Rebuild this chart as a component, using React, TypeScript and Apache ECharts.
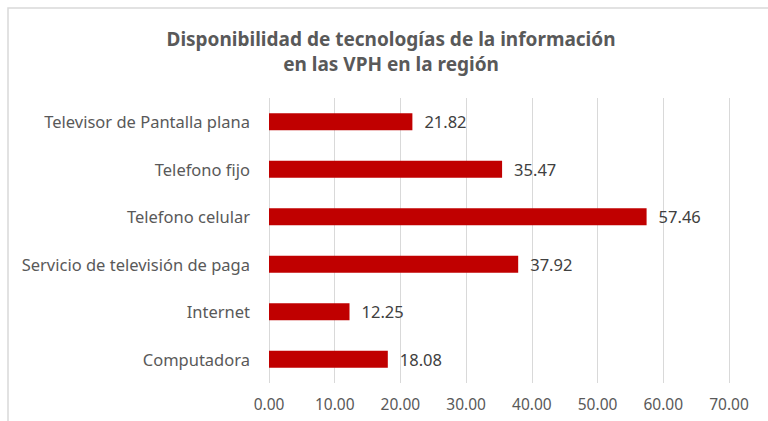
import React, { useEffect, useRef } from "react";
import * as echarts from "echarts";

const categories = [
  "Computadora",
  "Internet",
  "Servicio de televisión de paga",
  "Telefono celular",
  "Telefono fijo",
  "Televisor de Pantalla plana",
];
const values = [18.08, 12.25, 37.92, 57.46, 35.47, 21.82];
const titleLines = ["Disponibilidad de tecnologías de la información", "en las VPH en la región"];

const FONT = "'Noto Sans', sans-serif";

const titleStyle = {
  fontFamily: FONT,
  fontSize: 19,
  fontWeight: "bold",
  color: "#595959",
  lineHeight: 20,
};

export default function App() {
  const ref = useRef<HTMLDivElement>(null);
  useEffect(() => {
    if (!ref.current) return;
    const chart = echarts.init(ref.current, undefined, { renderer: "svg" });
    chart.setOption({
      animation: false,
      backgroundColor: "#ffffff",
      title: [
        { text: titleLines[0], left: 391, textAlign: "center", top: 29, padding: 0, textStyle: titleStyle },
        { text: titleLines[1], left: 391, textAlign: "center", top: 54, padding: 0, textStyle: titleStyle },
      ],
      graphic: [
        {
          type: "rect",
          shape: { x: 8, y: 8, width: 800, height: 500 },
          style: { fill: "none", stroke: "#d9d9d9", lineWidth: 1.5 },
          silent: true,
        },
      ],
      grid: { left: 269, right: 39, top: 98, bottom: 38, containLabel: false },
      xAxis: {
        type: "value",
        min: 0,
        max: 70,
        interval: 10,
        axisLine: { show: false },
        axisTick: { show: false },
        splitLine: { show: true, lineStyle: { color: "#d9d9d9", width: 1 } },
        axisLabel: {
          formatter: (v: number) => v.toFixed(2),
          color: "#595959",
          fontFamily: FONT,
          fontSize: 15.5,
          margin: 13,
        },
      },
      yAxis: {
        type: "category",
        data: categories,
        axisLine: { show: false },
        axisTick: { show: false },
        splitLine: { show: false },
        axisLabel: {
          color: "#595959",
          fontFamily: FONT,
          fontSize: 16.5,
          margin: 19,
        },
      },
      series: [
        {
          type: "bar",
          data: values,
          barWidth: 17,
          itemStyle: { color: "#C00000" },
          label: {
            show: true,
            position: "right",
            distance: 12,
            formatter: (p: any) => Number(p.value).toFixed(2),
            color: "#404040",
            fontFamily: FONT,
            fontSize: 16.5,
          },
        },
      ],
    });
    return () => chart.dispose();
  }, []);
  return (
    <div
      ref={ref}
      style={{ position: "fixed", left: 0, top: 0, width: 768, height: 421 }}
    />
  );
}
